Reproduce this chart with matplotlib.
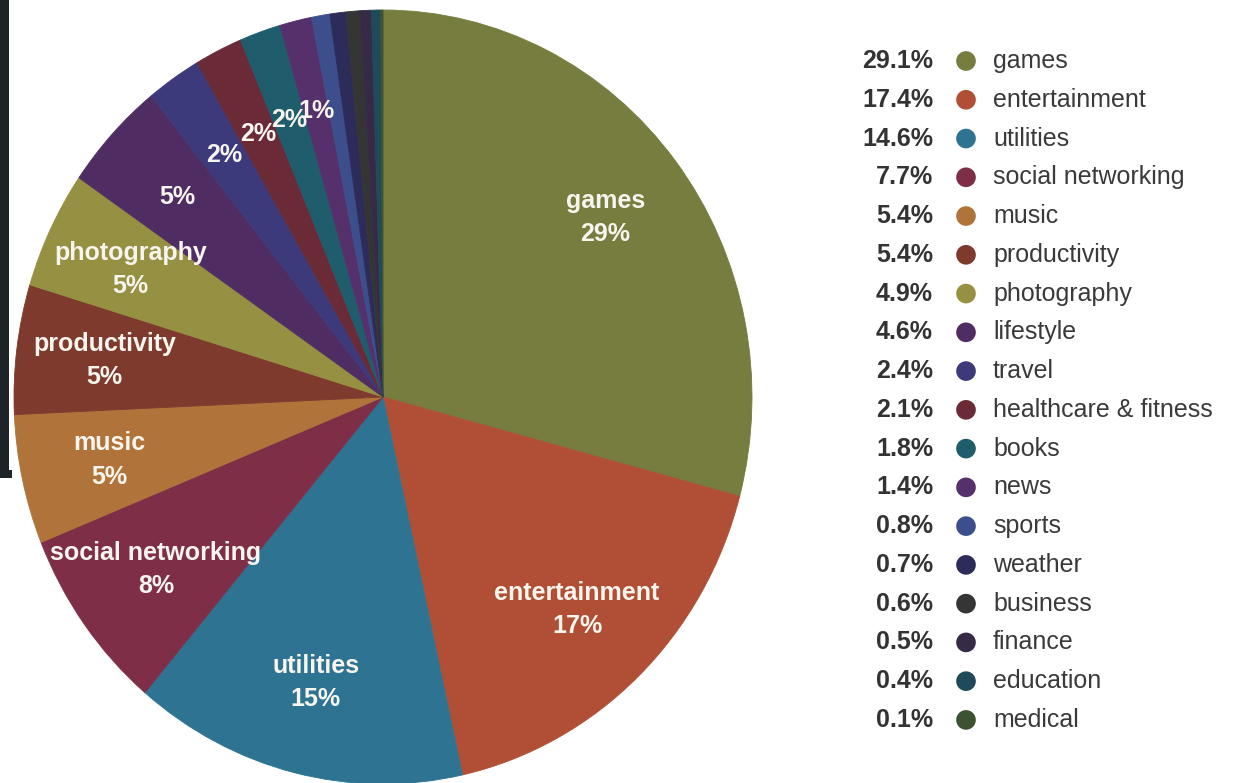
import matplotlib
matplotlib.use("Agg")
import matplotlib.pyplot as plt
from matplotlib.patches import Rectangle
import numpy as np

plt.rcParams['font.family'] = ['Liberation Sans', 'DejaVu Sans']

# app category shares (%), legend order = pie order (clockwise from 12 o'clock)
categories = ["games", "entertainment", "utilities", "social networking", "music",
              "productivity", "photography", "lifestyle", "travel",
              "healthcare & fitness", "books", "news", "sports", "weather",
              "business", "finance", "education", "medical"]
shares = [29.1, 17.4, 14.6, 7.7, 5.4, 5.4, 4.9, 4.6, 2.4, 2.1, 1.8, 1.4,
          0.8, 0.7, 0.6, 0.5, 0.4, 0.1]
colors = ["#767d3e", "#b04f35", "#2e7391", "#7e2f47", "#b0733a", "#7e3a2c",
          "#959042", "#4f2d62", "#3d3a7c", "#6a2a36", "#1f5c6c", "#56306a",
          "#3c4f8c", "#2d2b59", "#353535", "#372a46", "#1e4a5a", "#3d5232"]
# slices that carry their name inside the pie
named = ["games", "entertainment", "utilities", "social networking", "music",
         "productivity", "photography"]

W, H = 1238, 783
fig = plt.figure(figsize=(W / 100, H / 100), dpi=100)

# pie axes (picture is slightly stretched vertically)
cx, cy, rx, ry = 383, 397, 369, 387
ax = fig.add_axes([(cx - rx) / W, (H - cy - ry) / H, 2 * rx / W, 2 * ry / H])
wedges, _ = ax.pie(shares, colors=colors, startangle=90, counterclock=False,
                   radius=1, wedgeprops=dict(linewidth=0.6))
for w, c in zip(wedges, colors):
    w.set_edgecolor(c)
ax.set_aspect('auto')
ax.set_xlim(-1, 1)
ax.set_ylim(-1, 1)
ax.axis('off')

# labels inside the slices (only slices of 1% or more)
for w, name, val in zip(wedges, categories, shares):
    if val < 1.0:
        continue
    mid = np.deg2rad((w.theta1 + w.theta2) / 2)
    r = 0.76
    txt = f"{val:.0f}%"
    if name in named:
        txt = f"{name}\n{txt}"
    ax.text(r * np.cos(mid), r * np.sin(mid), txt, ha='center', va='center',
            color='#f7f5ee', fontsize=18, fontweight='bold', linespacing=1.5)

# legend drawn in pixel space
lax = fig.add_axes([0, 0, 1, 1])
lax.set_xlim(0, W)
lax.set_ylim(H, 0)
lax.axis('off')
y0, dy = 61, 38.76
for i, (name, val, c) in enumerate(zip(categories, shares, colors)):
    y = y0 + i * dy
    lax.text(933, y, f"{val:.1f}%", ha='right', va='center', fontsize=18,
             fontweight='bold', color='#333333')
    lax.scatter([966], [y], s=200, color=c, edgecolors='none')
    lax.text(993, y, name, ha='left', va='center', fontsize=18, color='#3a3a3a')

# dark frame edge at the top-left
lax.add_patch(Rectangle((0, 0), 9, 478, facecolor='#1d2327', edgecolor='none'))
lax.add_patch(Rectangle((0, 470), 12, 8, facecolor='#1d2327', edgecolor='none'))

fig.savefig("out.png", dpi=100)
